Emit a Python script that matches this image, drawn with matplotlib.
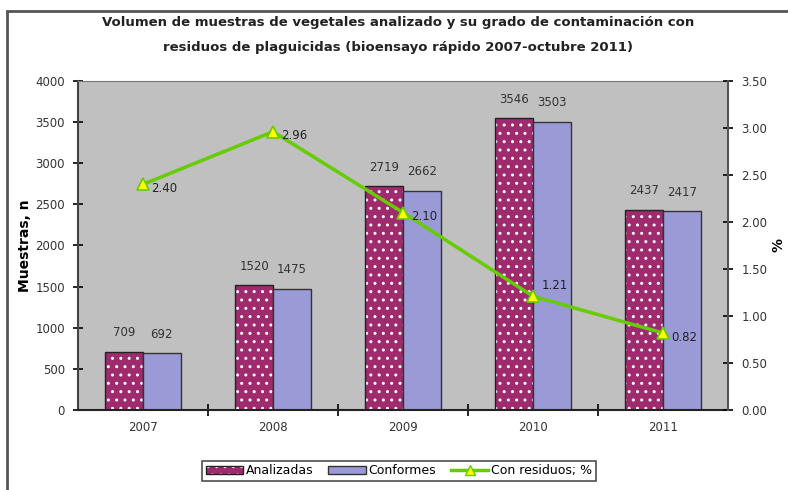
import numpy as np
import matplotlib.pyplot as plt
from matplotlib.patches import Rectangle, Patch
from matplotlib.lines import Line2D

plt.rcParams['font.family'] = ['Liberation Sans Narrow', 'DejaVu Sans']
plt.rcParams['hatch.linewidth'] = 1.0

# datos
years = ['2007', '2008', '2009', '2010', '2011']
analizadas = [709, 1520, 2719, 3546, 2437]
conformes = [692, 1475, 2662, 3503, 2417]
con_residuos = [2.40, 2.96, 2.10, 1.21, 0.82]

c_anal = '#A02A6E'
c_conf = '#9A9AD6'
c_line = '#66CC00'

fig = plt.figure(figsize=(7.88, 4.90), dpi=100)
fig.patch.set_facecolor('white')

# marco exterior
fig.patches.append(Rectangle((0.009, -0.1), 1.2, 1.078, transform=fig.transFigure,
                             fill=False, edgecolor='#555555', linewidth=2))

ax = fig.add_axes([0.099, 0.163, 0.825, 0.672])
ax.set_facecolor('#C0C0C0')

x = np.arange(len(years))
w = 0.29
ax.bar(x - w / 2, analizadas, w, color=c_anal, hatch='..', edgecolor='white', linewidth=0)
ax.bar(x - w / 2, analizadas, w, fill=False, edgecolor='#222222', linewidth=1)
ax.bar(x + w / 2, conformes, w, color=c_conf, edgecolor='#333333', linewidth=1)

for xi, v in zip(x, analizadas):
    ax.annotate(str(v), (xi - w / 2, v), xytext=(0, 9), textcoords='offset points',
                ha='center', va='bottom', fontsize=8.5, color='#333333')
for xi, v in zip(x, conformes):
    ax.annotate(str(v), (xi + w / 2, v), xytext=(0, 9), textcoords='offset points',
                ha='center', va='bottom', fontsize=8.5, color='#333333')

ax.set_xlim(-0.5, len(years) - 0.5)
ax.set_ylim(0, 4000)
ax.set_yticks(np.arange(0, 4001, 500))
ax.set_xticks(x)
ax.set_xticklabels(years)
ax.set_xticks(np.arange(0.5, len(years) - 0.5, 1), minor=True)
ax.tick_params(axis='x', which='major', length=0, pad=8, labelsize=8.5, labelcolor='#333333')
ax.tick_params(axis='x', which='minor', direction='inout', length=8, width=1.2)
ax.tick_params(axis='y', direction='inout', length=7, width=1.2, labelsize=8.5,
               labelcolor='#333333', pad=6)
ax.set_ylabel('Muestras, n', fontsize=10, fontweight='bold', labelpad=2)

ax.spines['top'].set_color('#777777')
ax.spines['left'].set_color('#444444')
ax.spines['left'].set_linewidth(1.5)
ax.spines['bottom'].set_color('#222222')
ax.spines['bottom'].set_linewidth(1.5)
ax.spines['right'].set_visible(False)

ax2 = ax.twinx()
ax2.plot(x, con_residuos, color=c_line, linewidth=2.5, marker='^', markersize=8,
         markerfacecolor='#FFFF00', markeredgecolor=c_line, markeredgewidth=1.2)
ax2.set_ylim(0, 3.5)
ax2.set_yticks(np.arange(0, 3.51, 0.5))
ax2.set_yticklabels([f'{t:.2f}' for t in np.arange(0, 3.51, 0.5)])
ax2.tick_params(axis='y', direction='inout', length=7, width=1.2, labelsize=8.5,
                labelcolor='#333333', pad=6)
ax2.spines['right'].set_color('#555555')
ax2.spines['right'].set_linewidth(1.5)
for s in ['top', 'left', 'bottom']:
    ax2.spines[s].set_visible(False)
ax2.set_ylabel('%', fontsize=10, fontweight='bold', rotation=90, labelpad=3)

offsets = [(6, -3), (6, -3), (6, -3), (6, 8), (6, -3)]
for xi, v, off in zip(x, con_residuos, offsets):
    ax2.annotate(f'{v:.2f}', (xi, v), xytext=off, textcoords='offset points',
                 ha='left', va='center', fontsize=8.5, color='#222222')

fig.text(0.505, 0.955, 'Volumen de muestras de vegetales analizado y su grado de contaminación con',
         ha='center', va='center', fontsize=9.5, fontweight='bold', color='#222222')
fig.text(0.505, 0.903, 'residuos de plaguicidas (bioensayo rápido 2007-octubre 2011)',
         ha='center', va='center', fontsize=9.5, fontweight='bold', color='#222222')

h_anal = (Patch(facecolor=c_anal, hatch='..', edgecolor='white', linewidth=0),
          Patch(fill=False, edgecolor='#222222', linewidth=1))
h_conf = Patch(facecolor=c_conf, edgecolor='#333333', linewidth=1)
h_line = Line2D([], [], color=c_line, linewidth=2.5, marker='^', markersize=7,
                markerfacecolor='#FFFF00', markeredgecolor=c_line)
leg = fig.legend([h_anal, h_conf, h_line], ['Analizadas', 'Conformes', 'Con residuos; %'],
                 loc='center', bbox_to_anchor=(0.506, 0.039), ncol=3, frameon=True,
                 fancybox=False, edgecolor='#222222', fontsize=9, handlelength=3.0,
                 handletextpad=0.2, columnspacing=1.2, borderpad=0.3)
leg.get_frame().set_linewidth(1.2)

fig.savefig('out.png', dpi=100)
